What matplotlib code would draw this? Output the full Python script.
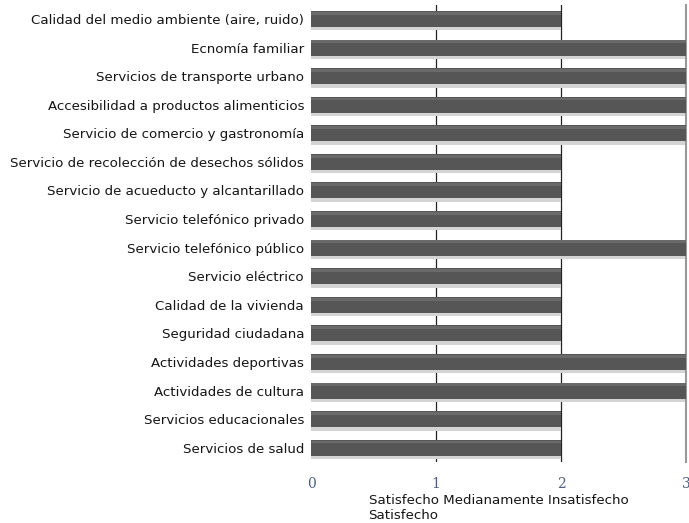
import matplotlib
matplotlib.use("Agg")
import matplotlib.pyplot as plt

categories = [
    "Calidad del medio ambiente (aire, ruido)",
    "Ecnomía familiar",
    "Servicios de transporte urbano",
    "Accesibilidad a productos alimenticios",
    "Servicio de comercio y gastronomía",
    "Servicio de recolección de desechos sólidos",
    "Servicio de acueducto y alcantarillado",
    "Servicio telefónico privado",
    "Servicio telefónico público",
    "Servicio eléctrico",
    "Calidad de la vivienda",
    "Seguridad ciudadana",
    "Actividades deportivas",
    "Actividades de cultura",
    "Servicios educacionales",
    "Servicios de salud",
]
values = [2, 3, 3, 3, 3, 2, 2, 2, 3, 2, 2, 2, 3, 3, 2, 2]
xticks = [0, 1, 2, 3]
xlabel = "Satisfecho Medianamente Insatisfecho\nSatisfecho"

fig = plt.figure(figsize=(6.89, 5.23), dpi=100)
ax = fig.add_axes([311/689, 1 - 462/523, 375/689, (462 - 4.7)/523])

n = len(categories)
ypos = list(range(n))
# shadow under bars
ax.barh([y + 0.12 for y in ypos], values, height=0.56, color="#d4d4d4", zorder=2, edgecolor="none")
ax.barh(ypos, values, height=0.56, color="#565656", zorder=3, edgecolor="none")
ax.barh([y - 0.2 for y in ypos], values, height=0.1, color="#6a6a6a", zorder=4, edgecolor="none")

ax.set_xlim(0, 3)
ax.set_ylim(n - 0.5, -0.5)
ax.set_yticks(ypos)
ax.set_yticklabels(categories, fontsize=9.6, color="#151515")
ax.set_xticks(xticks)
ax.set_xticklabels([str(t) for t in xticks], fontsize=10, color="#4f6080", family="DejaVu Serif")
ax.tick_params(axis="both", length=0)
ax.tick_params(axis="x", pad=11)
ax.tick_params(axis="y", pad=5)

for x in [1, 2]:
    ax.axvline(x, color="#222222", linewidth=0.9, zorder=1)
for s in ["top", "left", "bottom"]:
    ax.spines[s].set_visible(False)
ax.spines["right"].set_color("#999999")
ax.spines["right"].set_linewidth(1.5)

ax.set_xlabel(xlabel, fontsize=9.6, multialignment="left", labelpad=2, color="#151515")

fig.savefig("out.png", dpi=100)
